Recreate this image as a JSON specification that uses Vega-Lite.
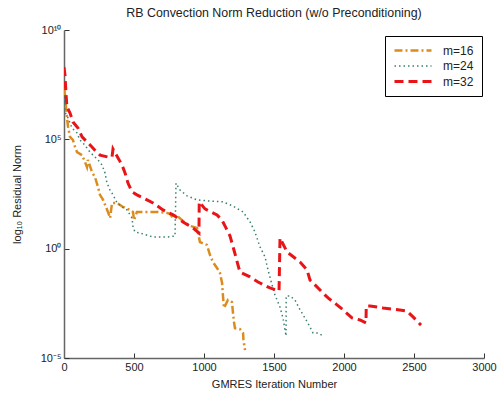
{
  "$schema": "https://vega.github.io/schema/vega-lite/v6.json",
  "width": 420,
  "height": 328,
  "autosize": {"type": "none"},
  "padding": {"left": 64, "top": 30, "right": 15, "bottom": 40},
  "background": "white",
  "title": {"text": "RB Convection Norm Reduction (w/o Preconditioning)", "fontSize": 12.4, "fontWeight": "normal", "font": "Liberation Sans", "color": "#222", "offset": 5, "anchor": "middle"},
  "config": {
    "view": {"stroke": null},
    "font": "Liberation Sans",
    "axis": {"labelFont": "Liberation Sans", "titleFont": "Liberation Sans", "labelFontSize": 11, "titleFontSize": 11, "titleFontWeight": "normal", "labelColor": "#222", "titleColor": "#222", "domainColor": "#666", "domainWidth": 1.5, "tickColor": "#333", "grid": false}
  },
  "data": {"values": [
    {"m": "m=16", "it": 0, "r": 2.2e7},
    {"m": "m=16", "it": 7, "r": 1.07e7},
    {"m": "m=16", "it": 14, "r": 3.0e6},
    {"m": "m=16", "it": 21, "r": 1.05e6},
    {"m": "m=16", "it": 29, "r": 3.7e5},
    {"m": "m=16", "it": 43, "r": 1.3e5},
    {"m": "m=16", "it": 64, "r": 9.3e4},
    {"m": "m=16", "it": 79, "r": 4.5e4},
    {"m": "m=16", "it": 93, "r": 2.6e4},
    {"m": "m=16", "it": 129, "r": 1.9e4},
    {"m": "m=16", "it": 150, "r": 9.2e3},
    {"m": "m=16", "it": 164, "r": 5.4e3},
    {"m": "m=16", "it": 171, "r": 1.14e4},
    {"m": "m=16", "it": 200, "r": 3.2e3},
    {"m": "m=16", "it": 221, "r": 1.9e3},
    {"m": "m=16", "it": 243, "r": 660},
    {"m": "m=16", "it": 257, "r": 290},
    {"m": "m=16", "it": 279, "r": 170},
    {"m": "m=16", "it": 314, "r": 48},
    {"m": "m=16", "it": 329, "r": 25},
    {"m": "m=16", "it": 343, "r": 123},
    {"m": "m=16", "it": 379, "r": 123},
    {"m": "m=16", "it": 421, "r": 81},
    {"m": "m=16", "it": 471, "r": 59},
    {"m": "m=16", "it": 493, "r": 48},
    {"m": "m=16", "it": 500, "r": 20},
    {"m": "m=16", "it": 521, "r": 48},
    {"m": "m=16", "it": 593, "r": 48},
    {"m": "m=16", "it": 664, "r": 48},
    {"m": "m=16", "it": 736, "r": 43},
    {"m": "m=16", "it": 757, "r": 39},
    {"m": "m=16", "it": 779, "r": 25},
    {"m": "m=16", "it": 800, "r": 35},
    {"m": "m=16", "it": 850, "r": 18.5},
    {"m": "m=16", "it": 900, "r": 11},
    {"m": "m=16", "it": 950, "r": 8.9},
    {"m": "m=16", "it": 971, "r": 2.0},
    {"m": "m=16", "it": 1021, "r": 1.48},
    {"m": "m=16", "it": 1043, "r": 0.51},
    {"m": "m=16", "it": 1064, "r": 0.245},
    {"m": "m=16", "it": 1093, "r": 0.13},
    {"m": "m=16", "it": 1114, "r": 0.078},
    {"m": "m=16", "it": 1129, "r": 0.027},
    {"m": "m=16", "it": 1136, "r": 0.0062},
    {"m": "m=16", "it": 1143, "r": 0.00195},
    {"m": "m=16", "it": 1171, "r": 0.0045},
    {"m": "m=16", "it": 1200, "r": 0.0036},
    {"m": "m=16", "it": 1207, "r": 0.00115},
    {"m": "m=16", "it": 1214, "r": 0.00045},
    {"m": "m=16", "it": 1221, "r": 0.00023},
    {"m": "m=16", "it": 1257, "r": 0.00021},
    {"m": "m=16", "it": 1279, "r": 0.00014},
    {"m": "m=16", "it": 1282, "r": 6.7e-5},
    {"m": "m=16", "it": 1293, "r": 2.3e-5},

    {"m": "m=24", "it": 0, "r": 1.07e7},
    {"m": "m=24", "it": 7, "r": 1.78e6},
    {"m": "m=24", "it": 29, "r": 9.5e5},
    {"m": "m=24", "it": 57, "r": 3.3e5},
    {"m": "m=24", "it": 93, "r": 1.95e5},
    {"m": "m=24", "it": 114, "r": 9.3e4},
    {"m": "m=24", "it": 136, "r": 6.8e4},
    {"m": "m=24", "it": 164, "r": 4.0e4},
    {"m": "m=24", "it": 186, "r": 2.6e4},
    {"m": "m=24", "it": 207, "r": 1.9e4},
    {"m": "m=24", "it": 243, "r": 1.14e4},
    {"m": "m=24", "it": 271, "r": 6.8e3},
    {"m": "m=24", "it": 293, "r": 2.9e3},
    {"m": "m=24", "it": 307, "r": 1.0e3},
    {"m": "m=24", "it": 329, "r": 480},
    {"m": "m=24", "it": 350, "r": 290},
    {"m": "m=24", "it": 379, "r": 123},
    {"m": "m=24", "it": 414, "r": 81},
    {"m": "m=24", "it": 450, "r": 59},
    {"m": "m=24", "it": 486, "r": 25},
    {"m": "m=24", "it": 493, "r": 9.8},
    {"m": "m=24", "it": 507, "r": 5.8},
    {"m": "m=24", "it": 543, "r": 5.2},
    {"m": "m=24", "it": 636, "r": 3.4},
    {"m": "m=24", "it": 736, "r": 3.4},
    {"m": "m=24", "it": 793, "r": 3.8},
    {"m": "m=24", "it": 800, "r": 1000},
    {"m": "m=24", "it": 829, "r": 480},
    {"m": "m=24", "it": 879, "r": 260},
    {"m": "m=24", "it": 950, "r": 170},
    {"m": "m=24", "it": 1043, "r": 150},
    {"m": "m=24", "it": 1136, "r": 138},
    {"m": "m=24", "it": 1207, "r": 89},
    {"m": "m=24", "it": 1279, "r": 48},
    {"m": "m=24", "it": 1329, "r": 16.6},
    {"m": "m=24", "it": 1364, "r": 5.8},
    {"m": "m=24", "it": 1400, "r": 1.2},
    {"m": "m=24", "it": 1436, "r": 0.42},
    {"m": "m=24", "it": 1457, "r": 0.107},
    {"m": "m=24", "it": 1486, "r": 0.022},
    {"m": "m=24", "it": 1507, "r": 0.0076},
    {"m": "m=24", "it": 1543, "r": 0.0021},
    {"m": "m=24", "it": 1564, "r": 0.00068},
    {"m": "m=24", "it": 1586, "r": 0.000102},
    {"m": "m=24", "it": 1587, "r": 0.0069},
    {"m": "m=24", "it": 1614, "r": 0.0069},
    {"m": "m=24", "it": 1650, "r": 0.0045},
    {"m": "m=24", "it": 1686, "r": 0.0016},
    {"m": "m=24", "it": 1721, "r": 0.00068},
    {"m": "m=24", "it": 1757, "r": 0.00026},
    {"m": "m=24", "it": 1779, "r": 0.00014},
    {"m": "m=24", "it": 1814, "r": 0.00014},
    {"m": "m=24", "it": 1843, "r": 0.00011},

    {"m": "m=32", "it": 0, "r": 2.0e8},
    {"m": "m=32", "it": 7, "r": 8.7e7},
    {"m": "m=32", "it": 14, "r": 1.3e7},
    {"m": "m=32", "it": 21, "r": 3.0e6},
    {"m": "m=32", "it": 43, "r": 1.6e6},
    {"m": "m=32", "it": 64, "r": 6.2e5},
    {"m": "m=32", "it": 100, "r": 3.3e5},
    {"m": "m=32", "it": 129, "r": 1.3e5},
    {"m": "m=32", "it": 164, "r": 7.6e4},
    {"m": "m=32", "it": 200, "r": 4.5e4},
    {"m": "m=32", "it": 221, "r": 3.2e4},
    {"m": "m=32", "it": 257, "r": 1.9e4},
    {"m": "m=32", "it": 314, "r": 1.55e4},
    {"m": "m=32", "it": 343, "r": 1.55e4},
    {"m": "m=32", "it": 350, "r": 3.6e4},
    {"m": "m=32", "it": 386, "r": 1.4e4},
    {"m": "m=32", "it": 414, "r": 6.8e3},
    {"m": "m=32", "it": 436, "r": 2.9e3},
    {"m": "m=32", "it": 457, "r": 1.0e3},
    {"m": "m=32", "it": 486, "r": 390},
    {"m": "m=32", "it": 521, "r": 290},
    {"m": "m=32", "it": 593, "r": 170},
    {"m": "m=32", "it": 636, "r": 123},
    {"m": "m=32", "it": 707, "r": 59},
    {"m": "m=32", "it": 779, "r": 35},
    {"m": "m=32", "it": 850, "r": 16.6},
    {"m": "m=32", "it": 921, "r": 8.9},
    {"m": "m=32", "it": 964, "r": 5.2},
    {"m": "m=32", "it": 966, "r": 138},
    {"m": "m=32", "it": 1007, "r": 66},
    {"m": "m=32", "it": 1093, "r": 35},
    {"m": "m=32", "it": 1129, "r": 20},
    {"m": "m=32", "it": 1157, "r": 8.9},
    {"m": "m=32", "it": 1186, "r": 3.8},
    {"m": "m=32", "it": 1214, "r": 0.87},
    {"m": "m=32", "it": 1243, "r": 0.178},
    {"m": "m=32", "it": 1257, "r": 0.085},
    {"m": "m=32", "it": 1329, "r": 0.051},
    {"m": "m=32", "it": 1386, "r": 0.030},
    {"m": "m=32", "it": 1471, "r": 0.016},
    {"m": "m=32", "it": 1536, "r": 0.0117},
    {"m": "m=32", "it": 1543, "r": 3.1},
    {"m": "m=32", "it": 1593, "r": 0.71},
    {"m": "m=32", "it": 1686, "r": 0.245},
    {"m": "m=32", "it": 1736, "r": 0.107},
    {"m": "m=32", "it": 1757, "r": 0.037},
    {"m": "m=32", "it": 1807, "r": 0.0178},
    {"m": "m=32", "it": 1850, "r": 0.0093},
    {"m": "m=32", "it": 1886, "r": 0.0056},
    {"m": "m=32", "it": 1950, "r": 0.0027},
    {"m": "m=32", "it": 1993, "r": 0.0016},
    {"m": "m=32", "it": 2057, "r": 0.00068},
    {"m": "m=32", "it": 2114, "r": 0.00055},
    {"m": "m=32", "it": 2157, "r": 0.00040},
    {"m": "m=32", "it": 2159, "r": 0.0024},
    {"m": "m=32", "it": 2186, "r": 0.0024},
    {"m": "m=32", "it": 2279, "r": 0.00195},
    {"m": "m=32", "it": 2386, "r": 0.0016},
    {"m": "m=32", "it": 2450, "r": 0.0014},
    {"m": "m=32", "it": 2493, "r": 0.00076},
    {"m": "m=32", "it": 2550, "r": 0.00032}
  ]},
  "mark": {"type": "line", "clip": true},
  "encoding": {
    "x": {"field": "it", "type": "quantitative", "scale": {"domain": [0, 3000], "nice": false, "zero": false},
      "axis": {"title": "GMRES Iteration Number", "values": [0, 500, 1000, 1500, 2000, 2500, 3000], "format": "d", "tickSize": -5, "labelPadding": 8, "titlePadding": 6, "labelFlush": false}},
    "y": {"field": "r", "type": "quantitative", "scale": {"type": "log", "domain": [1e-5, 1e10], "nice": false},
      "axis": {"title": "log₁₀ Residual Norm", "values": [1e-5, 1, 1e5, 1e10], "labelExpr": "datum.value >= 1e10 ? '10¹⁰' : datum.value >= 1e5 ? '10⁵' : datum.value >= 1 ? '10⁰' : '10⁻⁵'", "tickSize": -5, "labelPadding": 8, "titlePadding": 18, "labelFlush": false}},
    "color": {"field": "m", "type": "nominal", "scale": {"domain": ["m=16", "m=24", "m=32"], "range": ["#DC8C1E", "#3A8070", "#E81418"]},
      "legend": {"title": null, "orient": "none", "legendX": 321, "legendY": 6, "symbolType": "M-1,0H6.4", "symbolSize": 100, "symbolStrokeWidth": 2, "labelOffset": 37, "labelFontSize": 12, "labelFont": "Liberation Sans", "labelColor": "#222", "strokeColor": "black", "fillColor": "white", "padding": 8, "rowPadding": 3}},
    "strokeDash": {"field": "m", "type": "nominal", "scale": {"domain": ["m=16", "m=24", "m=32"], "range": [[8, 3, 2, 3], [1.5, 3], [9, 5]]}},
    "strokeWidth": {"field": "m", "type": "nominal", "scale": {"type": "ordinal", "domain": ["m=16", "m=24", "m=32"], "range": [2.5, 1.5, 3]}, "legend": null}
  }
}
